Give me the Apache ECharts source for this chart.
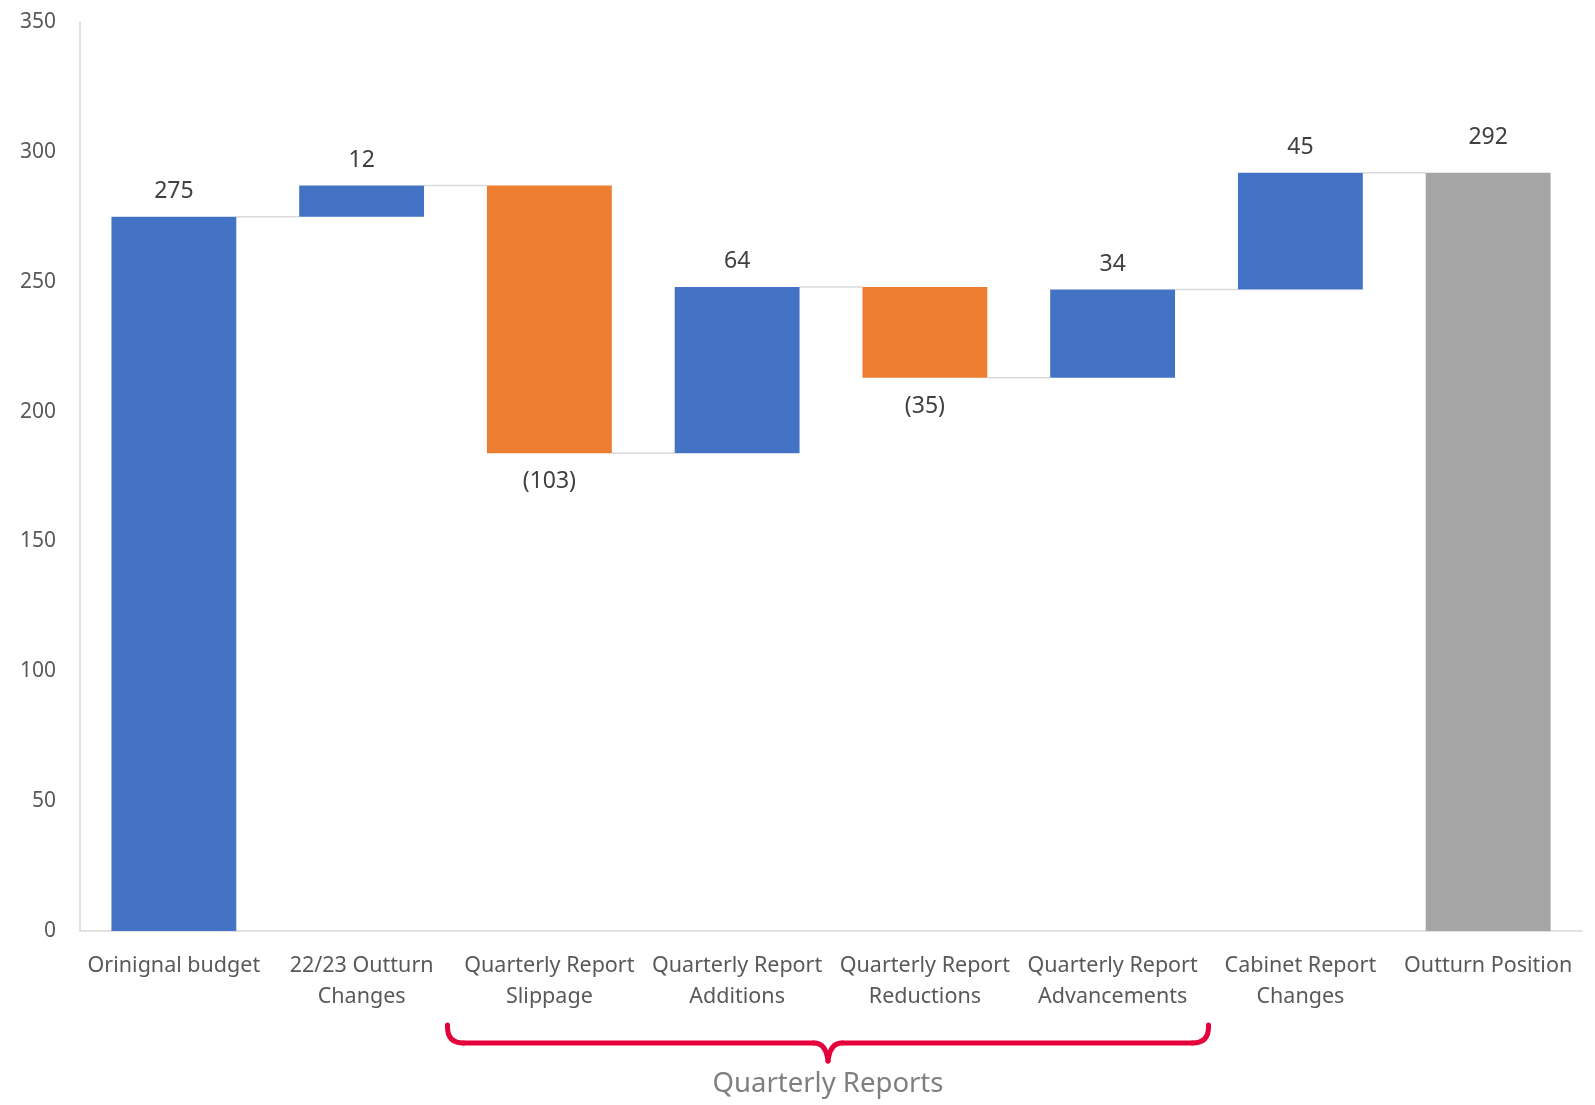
<!DOCTYPE html>
<html>
<head>
<meta charset="utf-8">
<script src="https://cdn.jsdelivr.net/npm/echarts@6/dist/echarts.min.js"></script>
<style>
html,body{margin:0;padding:0;background:#fff;}
#chart{width:1595px;height:1105px;}
</style>
</head>
<body>
<div id="chart"></div>
<script>
const categories = ['Orinignal budget', '22/23 Outturn\nChanges', 'Quarterly Report\nSlippage', 'Quarterly Report\nAdditions', 'Quarterly Report\nReductions', 'Quarterly Report\nAdvancements', 'Cabinet Report\nChanges', 'Outturn Position'];
const startValue = 275;
const deltas = [12, -103, 64, -35, 34, 45];
const endValue = 292;
const yTicks = [0, 50, 100, 150, 200, 250, 300, 350];
const bracketLabel = 'Quarterly Reports';

// build stacked waterfall arrays
const base = [0], inc = [startValue], dec = ['-'], tot = ['-'], levels = [startValue];
let cum = startValue;
deltas.forEach(d => {
  if (d >= 0) { base.push(cum); inc.push(d); dec.push('-'); }
  else { base.push(cum + d); inc.push('-'); dec.push(-d); }
  tot.push('-');
  cum += d;
  levels.push(cum);
});
base.push(0); inc.push('-'); dec.push('-'); tot.push(endValue);
const connectors = levels.map((v, i) => [i, v]);

const GAP = 0.335;
const FONT = 'Noto Sans, Open Sans, sans-serif';

const chart = echarts.init(document.getElementById('chart'));
chart.setOption({
  animation: false,
  backgroundColor: '#ffffff',
  grid: { left: 80, right: 13, top: 22, bottom: 174, containLabel: false },
  xAxis: {
    type: 'category',
    data: categories,
    axisLine: { show: true, lineStyle: { color: '#d9d9d9', width: 1.5 } },
    axisTick: { show: false },
    axisLabel: { color: '#595959', fontSize: 21.5, fontFamily: FONT, lineHeight: 31, margin: 19, interval: 0 }
  },
  yAxis: {
    type: 'value',
    min: yTicks[0], max: yTicks[yTicks.length - 1], interval: yTicks[1] - yTicks[0],
    axisLine: { show: true, lineStyle: { color: '#d9d9d9', width: 1.5 } },
    axisTick: { show: false },
    splitLine: { show: false },
    axisLabel: { color: '#595959', fontSize: 21, fontFamily: FONT, margin: 24 }
  },
  series: [
    {
      type: 'custom',
      name: 'connectors',
      silent: true,
      z: 1,
      data: connectors,
      renderItem: function (params, api) {
        const i = api.value(0);
        if (i >= categories.length - 1) return null;
        const lvl = api.value(1);
        const p1 = api.coord([i, lvl]);
        const p2 = api.coord([i + 1, lvl]);
        const bw = api.size([1, 0])[0];
        const half = bw * (1 - GAP) / 2;
        return {
          type: 'line',
          shape: { x1: p1[0] + half, y1: p1[1], x2: p2[0] - half, y2: p2[1] },
          style: { stroke: '#d9d9d9', lineWidth: 1.5 }
        };
      }
    },
    {
      type: 'bar', name: 'base', stack: 'w', data: base, silent: true,
      barCategoryGap: (GAP * 100) + '%',
      itemStyle: { color: 'rgba(0,0,0,0)' }
    },
    {
      type: 'bar', name: 'increase', stack: 'w', data: inc,
      itemStyle: { color: '#4472C4' },
      label: { show: true, position: 'top', distance: 14, color: '#404040', fontSize: 23, fontFamily: FONT,
        formatter: p => String(p.value) }
    },
    {
      type: 'bar', name: 'decrease', stack: 'w', data: dec,
      itemStyle: { color: '#ED7D31' },
      label: { show: true, position: 'bottom', distance: 17, color: '#404040', fontSize: 23, fontFamily: FONT,
        formatter: p => '(' + p.value + ')' }
    },
    {
      type: 'bar', name: 'total', stack: 'w', data: tot,
      itemStyle: { color: '#A5A5A5' },
      label: { show: true, position: 'top', distance: 24, color: '#404040', fontSize: 23, fontFamily: FONT,
        formatter: p => String(p.value) }
    }
  ]
});

// curly bracket under the quarterly report categories
const c2 = chart.convertToPixel({ xAxisIndex: 0 }, 2);
const c3 = chart.convertToPixel({ xAxisIndex: 0 }, 3);
const c5 = chart.convertToPixel({ xAxisIndex: 0 }, 5);
const bw = c3 - c2;
const y0 = chart.convertToPixel({ yAxisIndex: 0 }, 0);
const x0 = c2 - bw / 2 - 8;
const x1 = c5 + bw / 2 + 2;
const xc = (x0 + x1) / 2;
const yTop = y0 + 94, yMid = y0 + 112, yTip = y0 + 130;
const r = 16;
const red = { stroke: '#E4003B', lineWidth: 5, fill: null, lineCap: 'round' };
chart.setOption({
  graphic: [
    { type: 'line', shape: { x1: x0, y1: yTop, x2: x0, y2: yMid - r }, style: red },
    { type: 'bezierCurve', shape: { x1: x0, y1: yMid - r, cpx1: x0, cpy1: yMid, x2: x0 + r, y2: yMid }, style: red },
    { type: 'line', shape: { x1: x0 + r, y1: yMid, x2: xc - 14, y2: yMid }, style: red },
    { type: 'bezierCurve', shape: { x1: xc - 14, y1: yMid, cpx1: xc - 2, cpy1: yMid, x2: xc, y2: yTip }, style: red },
    { type: 'bezierCurve', shape: { x1: xc, y1: yTip, cpx1: xc + 2, cpy1: yMid, x2: xc + 14, y2: yMid }, style: red },
    { type: 'line', shape: { x1: xc + 14, y1: yMid, x2: x1 - r, y2: yMid }, style: red },
    { type: 'bezierCurve', shape: { x1: x1 - r, y1: yMid, cpx1: x1, cpy1: yMid, x2: x1, y2: yMid - r }, style: red },
    { type: 'line', shape: { x1: x1, y1: yMid - r, x2: x1, y2: yTop }, style: red },
    { type: 'text', x: xc, y: y0 + 153, style: { text: bracketLabel, fill: '#7f7f7f', fontSize: 27.5, fontFamily: FONT, align: 'center', verticalAlign: 'middle' } }
  ]
});
</script>
</body>
</html>
